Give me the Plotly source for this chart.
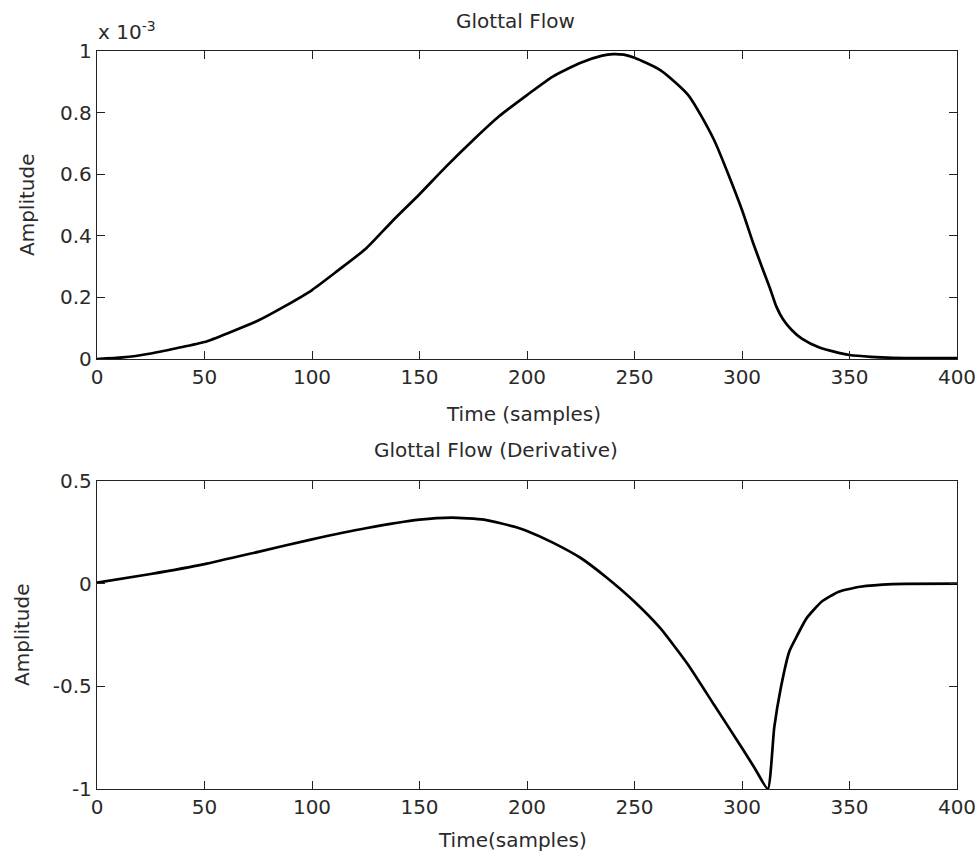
import plotly.graph_objects as go

W, H = 979, 859

# Glottal flow (units of 1e-3)
flow_t = [0, 12, 25, 37, 50, 62, 75, 87, 100, 112, 125, 137, 150, 162, 175, 187, 200, 212, 225,
          235, 240, 245, 250, 262, 275, 287, 300, 305, 310, 313, 316, 319, 323, 328, 336, 345, 350,
          360, 370, 400]
flow_v = [0, 0.005, 0.018, 0.035, 0.055, 0.087, 0.125, 0.17, 0.224, 0.287, 0.358, 0.445, 0.535,
          0.622, 0.711, 0.788, 0.857, 0.917, 0.962, 0.985, 0.99, 0.988, 0.978, 0.938, 0.857, 0.711,
          0.484, 0.38, 0.285, 0.23, 0.17, 0.13, 0.095, 0.065, 0.037, 0.02, 0.013, 0.007, 0.004, 0.003]

# Glottal flow derivative (normalised)
deriv_t = [0, 25, 50, 75, 100, 125, 150, 165, 180, 195, 200, 212, 225, 237, 250, 262, 275, 287,
           300, 306, 312, 315, 318, 322, 325, 330, 337, 345, 355, 370, 400]
deriv_v = [0.005, 0.047, 0.095, 0.155, 0.216, 0.27, 0.312, 0.322, 0.312, 0.275, 0.257, 0.2, 0.125,
           0.03, -0.088, -0.217, -0.396, -0.59, -0.80, -0.9, -1.0, -0.70, -0.51, -0.33, -0.266,
           -0.169, -0.088, -0.039, -0.015, -0.002, 0.0]

x_ticks = [0, 50, 100, 150, 200, 250, 300, 350, 400]
top_y_ticks = [0, 0.2, 0.4, 0.6, 0.8, 1]
top_y_text = ["0", "0.2", "0.4", "0.6", "0.8", "1"]
bot_y_ticks = [-1, -0.5, 0, 0.5]
bot_y_text = ["-1", "-0.5", "0", "0.5"]

FONT = "DejaVu Sans"
FS = 20
TXT = "#2a2a2a"

def px(x):
    return x / W

def py(y):
    return 1 - y / H

fig = go.Figure()
fig.add_trace(go.Scatter(x=flow_t, y=flow_v, mode="lines", xaxis="x", yaxis="y",
                         line=dict(color="black", width=2.7, shape="spline", smoothing=0.6),
                         showlegend=False))
fig.add_trace(go.Scatter(x=deriv_t, y=deriv_v, mode="lines", xaxis="x2", yaxis="y2",
                         line=dict(color="black", width=2.7, shape="spline", smoothing=0.5),
                         showlegend=False))

axcommon = dict(ticks="inside", ticklen=8, tickwidth=1.2, tickcolor="#222", showline=True,
                linecolor="#222", linewidth=1.3, mirror="ticks", showgrid=False, zeroline=False,
                automargin=False, tickfont=dict(family=FONT, size=FS, color=TXT))

xd = [px(97), px(957)]
fig.update_layout(
    width=W, height=H,
    margin=dict(l=0, r=0, t=0, b=0, autoexpand=False),
    paper_bgcolor="white", plot_bgcolor="white",
    xaxis=dict(domain=xd, range=[0, 400], tickvals=x_ticks, anchor="y", **axcommon),
    yaxis=dict(domain=[py(359), py(51)], range=[0, 1], tickvals=top_y_ticks, ticktext=top_y_text,
               anchor="x", **axcommon),
    xaxis2=dict(domain=xd, range=[0, 400], tickvals=x_ticks, anchor="y2", **axcommon),
    yaxis2=dict(domain=[py(789), py(481)], range=[-1, 0.5], tickvals=bot_y_ticks,
                ticktext=bot_y_text, anchor="x2", **axcommon),
)

def ann(text, x, y, rot=0, xa="center", ya="middle", size=FS):
    fig.add_annotation(text=text, x=px(x), y=py(y), xref="paper", yref="paper", showarrow=False,
                       textangle=rot, xanchor=xa, yanchor=ya,
                       font=dict(family=FONT, size=size, color=TXT))

ann("Glottal Flow", 515, 21)
ann("x 10<sup>-3</sup>", 96, 31, xa="left")
ann("Time (samples)", 523, 414)
ann("Amplitude", 27, 205, rot=-90)
ann("Glottal Flow (Derivative)", 496, 450)
ann("Time(samples)", 512, 840)
ann("Amplitude", 22, 635, rot=-90)

fig.write_html("out.html")
